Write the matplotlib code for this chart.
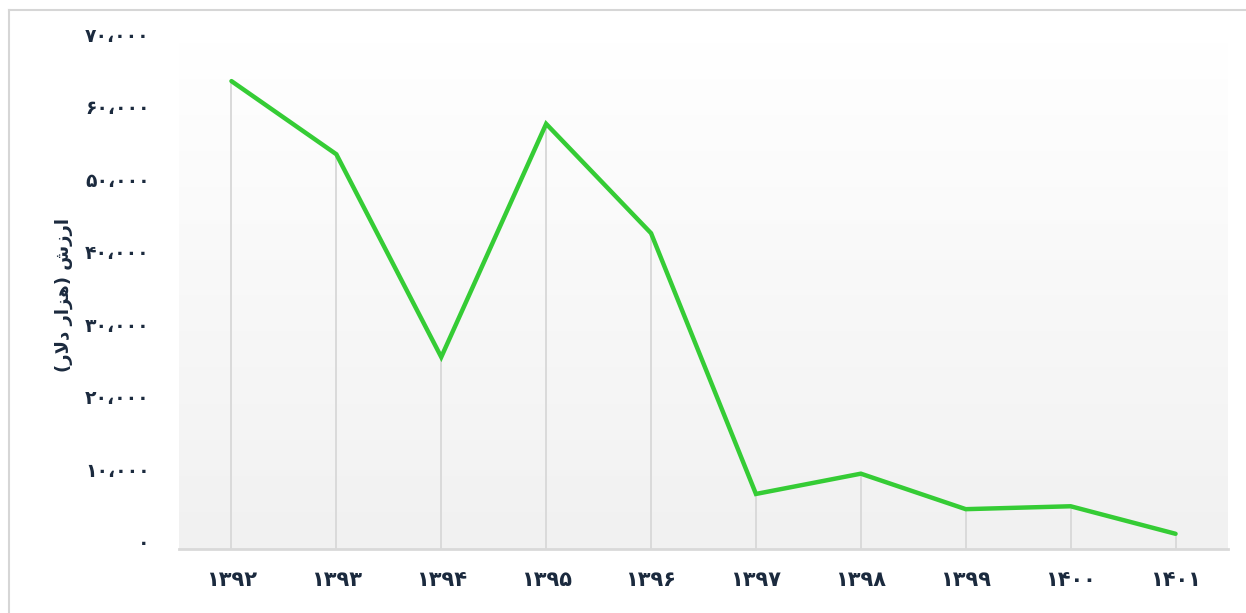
import numpy as np
import matplotlib.pyplot as plt
from matplotlib.lines import Line2D
from matplotlib.colors import LinearSegmentedColormap

plt.rcParams['font.family'] = ['DejaVu Sans']

years = ['۱۳۹۲', '۱۳۹۳', '۱۳۹۴', '۱۳۹۵', '۱۳۹۶', '۱۳۹۷', '۱۳۹۸', '۱۳۹۹', '۱۴۰۰', '۱۴۰۱']
values = [64600, 54500, 26500, 58700, 43600, 7600, 10400, 5500, 5900, 2100]
yticks = [0, 10000, 20000, 30000, 40000, 50000, 60000, 70000]

# pre-shaped label (presentation forms, visual order)
ylabel = '(ﺭﻻﺩ ﺭﺍﺰﻫ) ﺵﺯﺭﺍ'

fa_digits = str.maketrans('0123456789', '۰۱۲۳۴۵۶۷۸۹')


def fa_num(v):
    return f'{v:,}'.replace(',', '،').translate(fa_digits)


text_color = '#1b2a3e'
fig = plt.figure(figsize=(12.46, 6.13), dpi=100)
ax = fig.add_axes([179 / 1246, 1 - 549 / 613, (1228 - 179) / 1246, (549 - 42) / 613])

x = np.arange(len(years))

# soft vertical gradient for the plot background
grad = np.linspace(1.0, 0.0, 256).reshape(-1, 1)
bg = LinearSegmentedColormap.from_list('bg', ['#f1f1f1', '#ffffff'])
ax.imshow(grad, aspect='auto', cmap=bg, extent=(-0.5, 9.5, 0, 70000), origin='upper', zorder=0)

ax.vlines(x, 0, values, color='#dadada', lw=1.4, zorder=1)
ax.plot(x, values, color='#35cc35', lw=3.2, solid_capstyle='round', solid_joinstyle='miter', zorder=3)

ax.set_xlim(-0.5, 9.5)
ax.set_ylim(0, 70000)
ax.set_xticks(x)
ax.set_xticklabels(years, fontsize=15, fontweight='bold', color=text_color)
ax.set_yticks(yticks)
ax.set_yticklabels([fa_num(v) for v in yticks], fontsize=13.5, fontweight='bold', color=text_color,
                   va='baseline')
ax.tick_params(axis='x', length=0, pad=15)
ax.tick_params(axis='y', length=0, pad=21)

for s in ['top', 'right', 'left']:
    ax.spines[s].set_visible(False)
ax.spines['bottom'].set_color('#d9d9d9')
ax.spines['bottom'].set_linewidth(2)

ax.set_ylabel(ylabel, fontsize=13, fontweight='bold', color=text_color, labelpad=9)

# outer frame (top and left edges)
fig.add_artist(Line2D([8.5 / 1246, 1], [1 - 9.5 / 613] * 2, color='#d6d6d6', lw=1.5))
fig.add_artist(Line2D([8.5 / 1246] * 2, [0, 1 - 9.5 / 613], color='#d6d6d6', lw=1.5))

fig.savefig('out.png', dpi=100)
